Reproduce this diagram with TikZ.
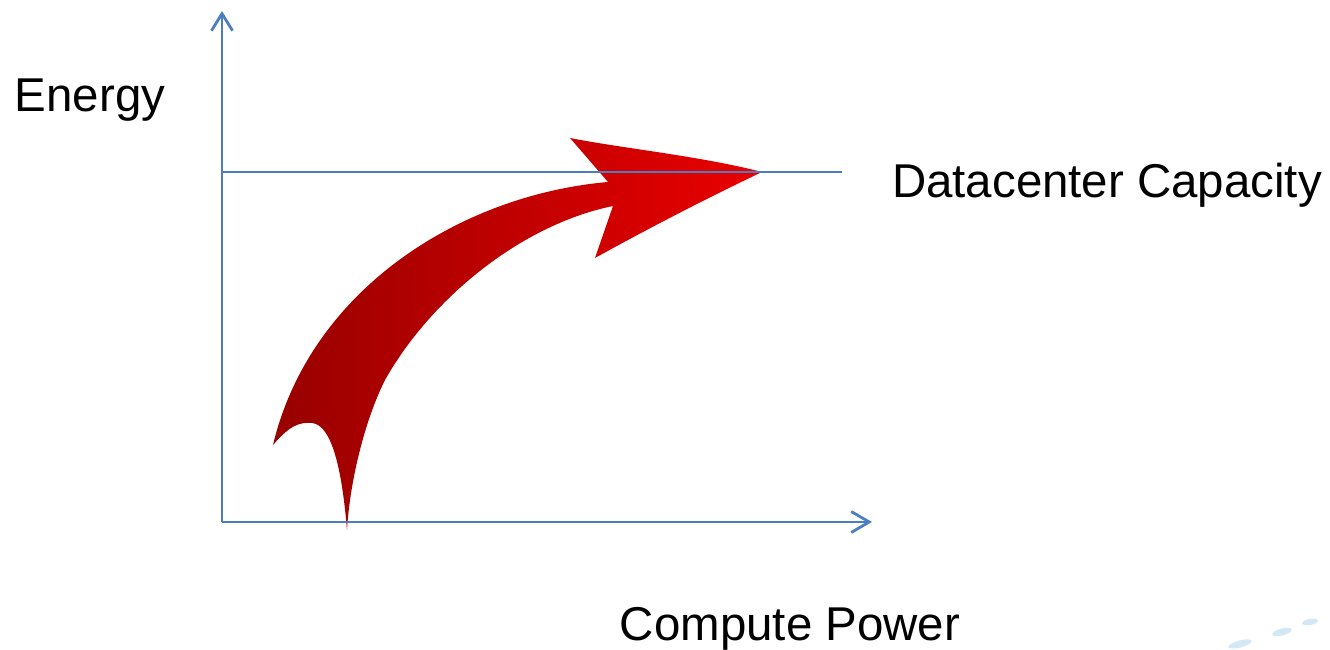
\documentclass[tikz,border=0pt]{standalone}
\usepackage{fontspec}
\setmainfont{Liberation Sans}
\usetikzlibrary{arrows.meta}
\definecolor{axblue}{HTML}{4A7EC1}
\definecolor{darkred}{HTML}{980000}
\definecolor{brightred}{HTML}{EA0000}
\begin{document}
\begin{tikzpicture}
\tikzstyle{ax}=[axblue, line width=0.8pt]
\tikzstyle{lbl}=[font=\fontsize{13.5pt}{16pt}\selectfont, inner sep=0pt]
\useasboundingbox (0,0) rectangle (13.3,6.5);

\coordinate (o)    at (2.22, 1.28) ;
\coordinate (ytop) at (2.22, 6.39) ;
\coordinate (xend) at (8.72, 1.28) ;
\coordinate (capl) at (2.22, 4.78) ;
\coordinate (capr) at (8.42, 4.78) ;

\node[lbl](energy) at (0.90, 5.50) {Energy} ;
\node[lbl](cap)    at (11.07, 4.65) {Datacenter Capacity} ;
\node[lbl](power)  at (7.90, 0.21) {Compute Power} ;

% curved growth arrow
\shade[left color=darkred, right color=brightred]
  (7.62, 4.78) .. controls (7.0, 4.94) and (6.2, 5.02) .. (5.70, 5.12)
  -- (6.08, 4.68)
  .. controls (4.6, 4.55) and (3.1, 3.6) .. (2.73, 2.05)
  .. controls (2.90, 2.25) and (3.00, 2.28) .. (3.12, 2.27)
  .. controls (3.32, 2.25) and (3.42, 1.80) .. (3.47, 1.20)
  .. controls (3.50, 1.70) and (3.65, 2.30) .. (3.85, 2.70)
  .. controls (4.3, 3.5) and (5.2, 4.25) .. (6.13, 4.44)
  -- (5.95, 3.92)
  .. controls (6.6, 4.28) and (7.2, 4.58) .. cycle ;

% axes and capacity line
\draw[ax, -{Straight Barb[length=1.7mm, width=2.1mm]}] (o) -- (ytop) ;
\draw[ax, -{Straight Barb[length=1.8mm, width=2.1mm]}] (o) -- (xend) ;
\draw[ax] (capl) -- (capr) ;

% faint logo remnant
\fill[cyan!60!blue, opacity=0.18, rotate around={15:(12.40,0.06)}] (12.40, 0.06) ellipse (0.12 and 0.035) ;
\fill[cyan!60!blue, opacity=0.18, rotate around={15:(12.82,0.18)}] (12.82, 0.18) ellipse (0.10 and 0.035) ;
\fill[cyan!60!blue, opacity=0.18, rotate around={10:(13.10,0.28)}] (13.10, 0.28) ellipse (0.08 and 0.03) ;
\end{tikzpicture}
\end{document}
